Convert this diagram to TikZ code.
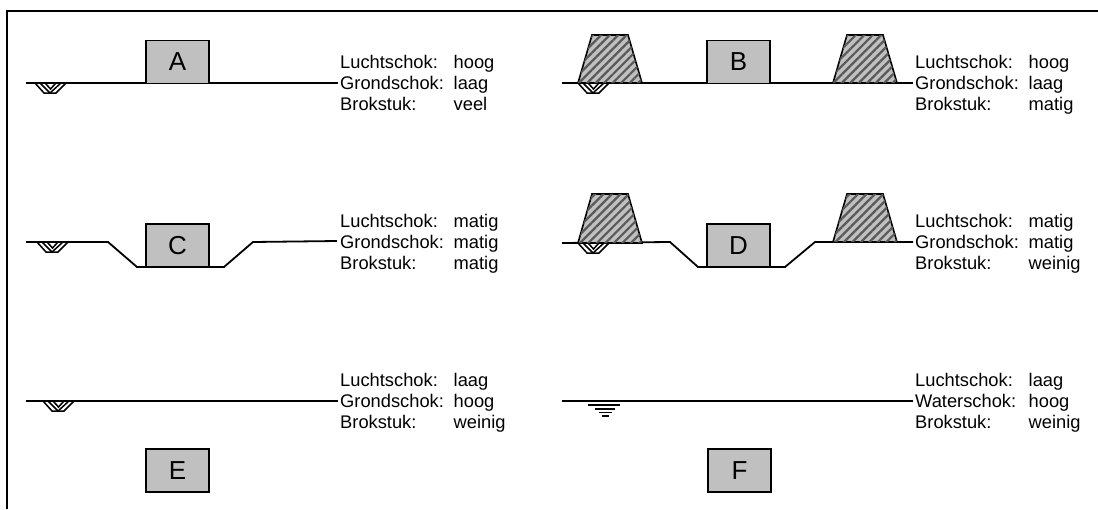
\documentclass[tikz,border=0pt]{standalone}
\usepackage{fontspec}
\setmainfont{Liberation Sans}
\usetikzlibrary{matrix,patterns.meta}
\definecolor{blockgray}{RGB}{192,192,192}
\tikzset{
    framesty/.style={line width=2pt},
    groundsty/.style={line width=1.8pt},
    blocksty/.style={draw,line width=1.5pt,fill=blockgray,rectangle,minimum width=63,minimum height=43,inner sep=0,font=\fontsize{26}{26}\selectfont},
    dikesty/.style={draw,line width=1.6pt,fill=blockgray,postaction={pattern={Lines[angle=45,distance=6pt,line width=2.2pt]},pattern color=black!65}},
    statsty/.style={matrix of nodes,inner sep=0,row sep=5.5,anchor=west,
      nodes={inner sep=0,anchor=base west,text height=12,text depth=3.5,font=\fontsize{18.3}{18.3}\selectfont},
      column 1/.style={nodes={text width=113.5}},ampersand replacement=\&},
    watersty/.style={line width=1.6pt},
}
\newcommand{\crater}[2]{
  \begin{scope}[shift={(#1,#2)},line width=1.5pt]
    \draw (0,0) -- (9,10) -- (21,10) -- (31,0);
    \draw (5,0) -- (15,10) -- (26,0);
    \draw (10,0) -- (15.5,6) -- (21,0);
  \end{scope}
}
\begin{document}
\begin{tikzpicture}[x=1pt,y=-1pt]
  \useasboundingbox (0,0) rectangle (1098,509);
  \draw[framesty] (7,509) -- (7,11) -- (1098,11);

  % A
  \crater{35}{83}
  \matrix (statA) [statsty] at (340,85.5)
  {
  Luchtschok: \& hoog \\
  Grondschok: \& laag \\
  Brokstuk: \& veel \\
  };
  \coordinate (startA) at (26,83);
  \draw[groundsty] (startA) -- ([shift={(-2pt,2.5pt)}]statA-2-1.west);
  \node (blockA) [blocksty] at (177.5,62) {A};

  % B
  \crater{578}{83}
  \matrix (statB) [statsty] at (915,85.5)
  {
  Luchtschok: \& hoog \\
  Grondschok: \& laag \\
  Brokstuk: \& matig \\
  };
  \coordinate (startB) at (562,83);
  \draw[groundsty] (startB) -- ([shift={(-2pt,2.5pt)}]statB-2-1.west);
  \node (blockB) [blocksty] at (738.5,62) {B};
  \draw[dikesty] (578,83) -- (592,35) -- (628,35) -- (642,83) -- cycle;
  \draw[dikesty] (833,83) -- (847,35) -- (883,35) -- (897,83) -- cycle;

  % C
  \crater{37}{242}
  \matrix (statC) [statsty] at (340,244.5)
  {
  Luchtschok: \& matig \\
  Grondschok: \& matig \\
  Brokstuk: \& matig \\
  };
  \coordinate (startC) at (26,242);
  \draw[groundsty] (startC) -- (108,242) -- (137,267) -- (224,267) -- (253,242) -- ([shift={(-3pt,3.5pt)}]statC-2-1.west);
  \node (blockC) [blocksty] at (177.5,245.5) {C};

  % D
  \crater{578}{243}
  \matrix (statD) [statsty] at (915,244.5)
  {
  Luchtschok: \& matig \\
  Grondschok: \& matig \\
  Brokstuk: \& weinig \\
  };
  \coordinate (startD) at (562,243);
  \draw[groundsty] (startD) -- (670,242) -- (698,267) -- (785,267) -- (815,242) -- ([shift={(-2pt,2.5pt)}]statD-2-1.west);
  \node (blockD) [blocksty] at (738.5,245.5) {D};
  \draw[dikesty] (578,243) -- (592,194) -- (628,194) -- (642,243) -- cycle;
  \draw[dikesty] (833,242) -- (847,194) -- (883,194) -- (897,242) -- cycle;

  % E
  \crater{43}{401}
  \matrix (statE) [statsty] at (340,403.5)
  {
  Luchtschok: \& laag \\
  Grondschok: \& hoog \\
  Brokstuk: \& weinig \\
  };
  \coordinate (startE) at (26,401);
  \draw[groundsty] (startE) -- ([shift={(-2pt,2.5pt)}]statE-2-1.west);
  \node (blockE) [blocksty] at (177.5,470.5) {E};

  % F
  \matrix (statF) [statsty] at (915,403.5)
  {
  Luchtschok: \& laag \\
  Waterschok: \& hoog \\
  Brokstuk: \& weinig \\
  };
  \coordinate (startF) at (562,401);
  \draw[groundsty] (startF) -- ([shift={(-2pt,2.5pt)}]statF-2-1.west);
  \node (blockF) [blocksty] at (739.5,470.5) {F};
  \draw[watersty] (588,405) -- (620,405);
  \draw[watersty] (595,409) -- (615,409);
  \draw[watersty] (599,412.5) -- (612,412.5);
  \draw[watersty] (602,416) -- (609,416);
\end{tikzpicture}
\end{document}
